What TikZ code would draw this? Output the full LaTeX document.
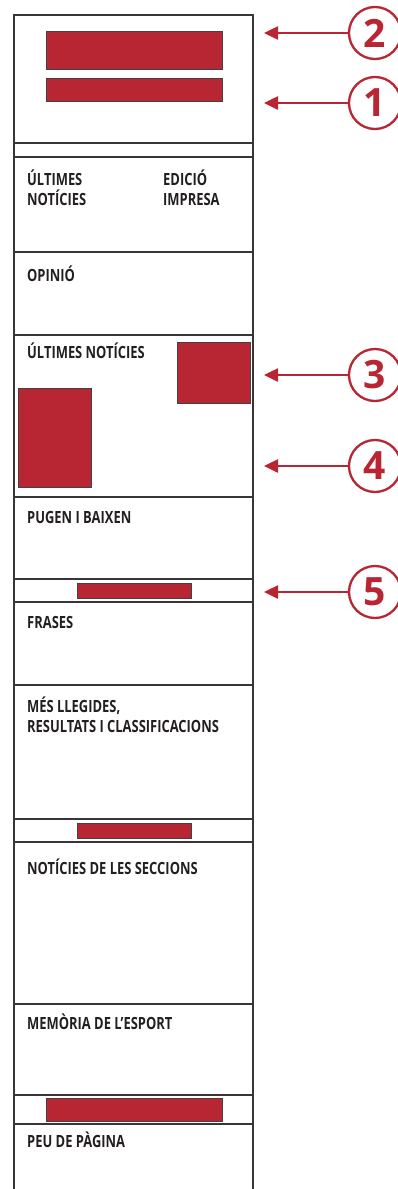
\documentclass[tikz,border=0pt]{standalone}
\usepackage{fontspec}
\usepackage{xcolor}
\usetikzlibrary{arrows.meta}
\newfontfamily\estret[FakeStretch=0.77]{Open Sans}
\newfontfamily\xifra{Open Sans}
\definecolor{vermell}{RGB}{184,38,52}
\definecolor{tinta}{RGB}{35,31,32}
\newcommand{\crida}[3]{%
    \coordinate (p#1) at (264,#2);
    \node[cercle] (c#1) at (375,#2) {#3};
    \draw[fletxa] (c#1) -- (p#1);
}

\begin{document}
\begin{tikzpicture}[
    x=1pt,y=-1pt,
    cercle/.style={circle,draw=vermell,line width=2.3pt,minimum size=52pt,
        inner sep=0pt,text=vermell,font=\xifra\bfseries\fontsize{39}{39}\selectfont},
    fletxa/.style={draw=vermell,line width=2.5pt,-{Triangle[length=14pt,width=13pt]}},
    bloc/.style={fill=vermell,draw=tinta!85,line width=0.6pt},
    linia/.style={draw=tinta!90,line width=1.3pt},
    titol/.style={anchor=base west,inner sep=0pt,align=left,text=tinta,
        font=\estret\bfseries\fontsize{16.8}{20}\selectfont}
]
    \useasboundingbox (0,0) rectangle (398,1189);
    % marc de la pàgina
    \draw[linia] (14,1189) -- (14,15) -- (253,15) -- (253,1189);
    \foreach \y in {143,157,252,335,497,579,602,685,819,842,1004,1095,1124} {
        \draw[linia] (14,\y) -- (253,\y);
    }
    \filldraw[bloc] (46,31) rectangle (222,69);
    \filldraw[bloc] (46,78) rectangle (222,101);
    \filldraw[bloc] (177,342) rectangle (250,403);
    \filldraw[bloc] (18,388) rectangle (91,487);
    \filldraw[bloc] (77,583) rectangle (191,598);
    \filldraw[bloc] (77,823) rectangle (191,838);
    \filldraw[bloc] (46,1098) rectangle (222,1121);

    \node[titol] (ultimes) at (27,205) {ÚLTIMES\\NOTÍCIES};
    \node[titol] (edicio) at (163,205) {EDICIÓ\\IMPRESA};
    \node[titol] (opinio) at (27,281) {OPINIÓ};
    \node[titol] (noticies) at (27,358) {ÚLTIMES NOTÍCIES};
    \node[titol] (pugen) at (27,523) {PUGEN I BAIXEN};
    \node[titol] (frases) at (27,628) {FRASES};
    \node[titol] (llegides) at (27,732) {MÉS LLEGIDES,\\RESULTATS I CLASSIFICACIONS};
    \node[titol] (seccions) at (27,874) {NOTÍCIES DE LES SECCIONS};
    \node[titol] (memoria) at (27,1029) {MEMÒRIA DE L’ESPORT};
    \node[titol] (peu) at (27,1147) {PEU DE PÀGINA};

    \crida{2}{33}{2}
    \crida{1}{103}{1}
    \crida{3}{375}{3}
    \crida{4}{466}{4}
    \crida{5}{592}{5}
\end{tikzpicture}
\end{document}
